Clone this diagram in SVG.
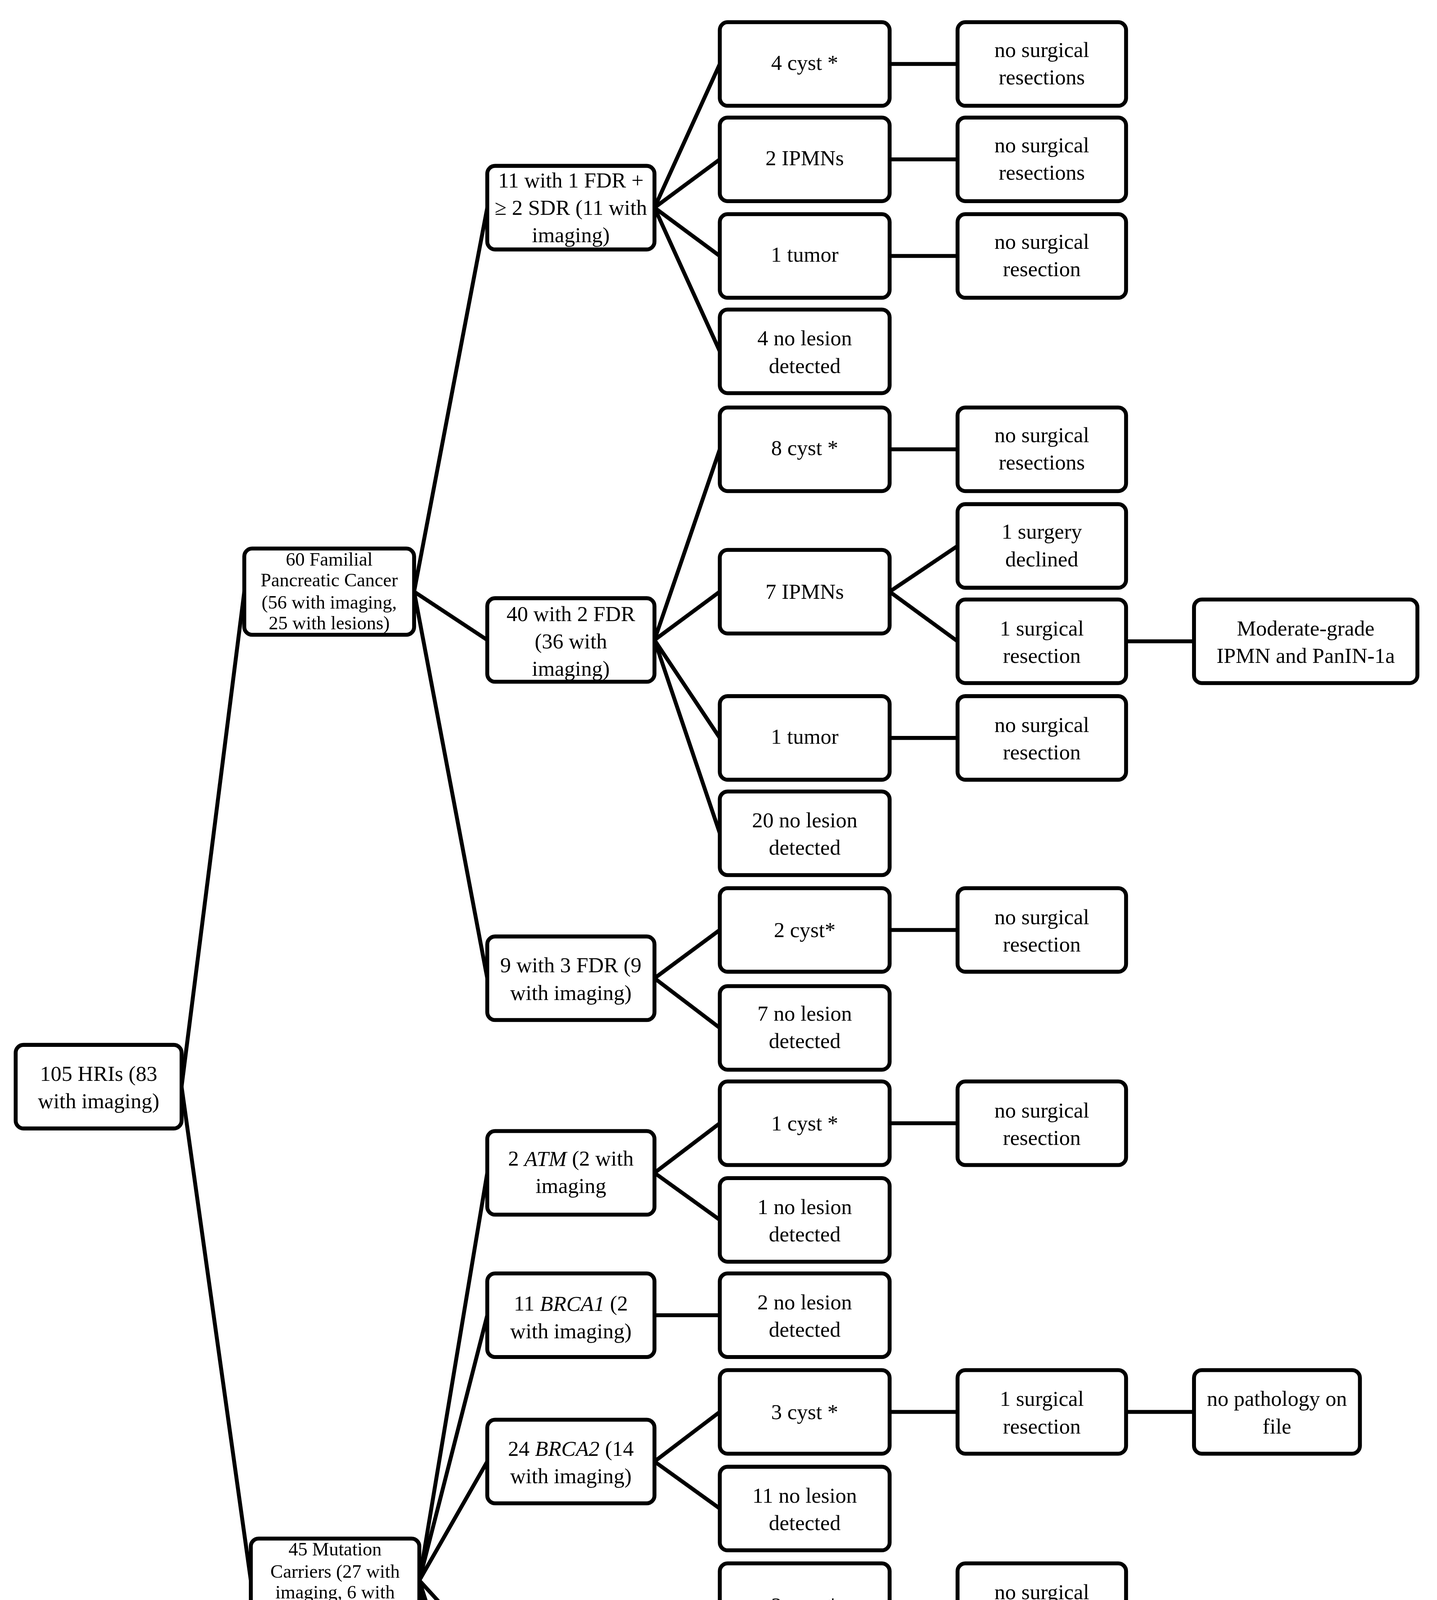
<svg xmlns="http://www.w3.org/2000/svg" width="3678" height="5244" viewBox="0 0 3678 5244">
<style>
rect{fill:#fff;stroke:#000;stroke-width:3;}
text{font-family:"Liberation Serif","DejaVu Serif",serif;font-size:16.5px;text-anchor:middle;dominant-baseline:central;fill:#000;}
text.s{font-size:14.5px;}
#connectors line{stroke:#000;stroke-width:3;}
</style>
<rect x="0" y="0" width="3678" height="5244" fill="#fff" style="stroke:none"/>
<g transform="scale(3.3436)">
<g id="connectors">
<line x1="139" y1="832" x2="187" y2="453"/><line x1="139" y1="832" x2="192" y2="1210"/>
<line x1="317" y1="453" x2="373" y2="159"/><line x1="317" y1="453" x2="373" y2="490"/><line x1="317" y1="453" x2="373" y2="749"/>
<line x1="321" y1="1210" x2="373" y2="898"/><line x1="321" y1="1210" x2="373" y2="1007"/><line x1="321" y1="1210" x2="373" y2="1119"/><line x1="321" y1="1210" x2="373" y2="1267"/><line x1="321" y1="1210" x2="373" y2="1376"/><line x1="321" y1="1210" x2="373" y2="1450"/><line x1="321" y1="1210" x2="373" y2="1524"/>
<line x1="501" y1="159" x2="551" y2="49"/><line x1="501" y1="159" x2="551" y2="122"/><line x1="501" y1="159" x2="551" y2="196"/><line x1="501" y1="159" x2="551" y2="269"/>
<line x1="501" y1="490" x2="551" y2="344"/><line x1="501" y1="490" x2="551" y2="453"/><line x1="501" y1="490" x2="551" y2="565"/><line x1="501" y1="490" x2="551" y2="638"/>
<line x1="501" y1="749" x2="551" y2="712"/><line x1="501" y1="749" x2="551" y2="787"/>
<line x1="501" y1="898" x2="551" y2="860"/><line x1="501" y1="898" x2="551" y2="934"/>
<line x1="501" y1="1007" x2="551" y2="1007"/>
<line x1="501" y1="1119" x2="551" y2="1081"/><line x1="501" y1="1119" x2="551" y2="1155"/>
<line x1="501" y1="1267" x2="551" y2="1229"/><line x1="501" y1="1267" x2="551" y2="1303"/>
<line x1="501" y1="1376" x2="551" y2="1376"/><line x1="501" y1="1450" x2="551" y2="1450"/><line x1="501" y1="1524" x2="551" y2="1524"/>
<line x1="681" y1="49" x2="733" y2="49"/><line x1="681" y1="122" x2="733" y2="122"/><line x1="681" y1="196" x2="733" y2="196"/><line x1="681" y1="344" x2="733" y2="344"/>
<line x1="681" y1="453" x2="733" y2="418"/><line x1="681" y1="453" x2="733" y2="491"/><line x1="681" y1="565" x2="733" y2="565"/><line x1="681" y1="712" x2="733" y2="712"/><line x1="681" y1="860" x2="733" y2="860"/><line x1="681" y1="1081" x2="733" y2="1081"/><line x1="681" y1="1229" x2="733" y2="1229"/>
<line x1="862" y1="491" x2="914" y2="491"/><line x1="862" y1="1081" x2="914" y2="1081"/>
</g>
<g id="root"><rect x="12" y="800" width="127" height="64" rx="6"/><text x="75.5" y="822">105 HRIs (83</text><text x="75.5" y="843">with imaging)</text></g>
<g id="fpc"><rect x="187" y="420" width="130" height="66" rx="6"/><text class="s" x="252" y="428">60 Familial</text><text class="s" x="252" y="444">Pancreatic Cancer</text><text class="s" x="252" y="461">(56 with imaging,</text><text class="s" x="252" y="477">25 with lesions)</text></g>
<g id="mc"><rect x="192" y="1178" width="129" height="64" rx="6"/><text class="s" x="256.5" y="1186">45 Mutation</text><text class="s" x="256.5" y="1203">Carriers (27 with</text><text class="s" x="256.5" y="1219">imaging, 6 with</text><text class="s" x="256.5" y="1235">lesions)</text></g>
<g id="a"><rect x="373" y="127" width="128" height="64" rx="6"/><text x="437" y="138">11 with 1 FDR +</text><text x="437" y="159">≥ 2 SDR (11 with</text><text x="437" y="180">imaging)</text></g>
<g id="b"><rect x="373" y="458" width="128" height="64" rx="6"/><text x="437" y="470">40 with 2 FDR</text><text x="437" y="491">(36 with</text><text x="437" y="512">imaging)</text></g>
<g id="c"><rect x="373" y="717" width="128" height="64" rx="6"/><text x="437" y="739">9 with 3 FDR (9</text><text x="437" y="760">with imaging)</text></g>
<g id="d"><rect x="373" y="866" width="128" height="64" rx="6"/><text x="437" y="887">2 <tspan font-style="italic">ATM</tspan> (2 with</text><text x="437" y="908">imaging</text></g>
<g id="e"><rect x="373" y="975" width="128" height="64" rx="6"/><text x="437" y="998">11 <tspan font-style="italic">BRCA1</tspan>  (2</text><text x="437" y="1019">with imaging)</text></g>
<g id="f"><rect x="373" y="1087" width="128" height="64" rx="6"/><text x="437" y="1109">24 <tspan font-style="italic">BRCA2</tspan> (14</text><text x="437" y="1130">with imaging)</text></g>
<g id="g"><rect x="373" y="1235" width="128" height="64" rx="6"/><text x="437" y="1256">5 <tspan font-style="italic">CDKN2A</tspan>  (5</text><text x="437" y="1277">with imaging)</text></g>
<g id="h"><rect x="373" y="1344" width="128" height="64" rx="6"/><text x="437" y="1377">1 <tspan font-style="italic">MSH6</tspan></text></g>
<g id="i"><rect x="373" y="1418" width="128" height="64" rx="6"/><text x="437" y="1451">1 <tspan font-style="italic">STK11</tspan></text></g>
<g id="j"><rect x="373" y="1492" width="128" height="64" rx="6"/><text x="437" y="1525">1 <tspan font-style="italic">RAD50</tspan></text></g>
<g id="l3a"><rect x="551" y="17" width="130" height="64" rx="6"/><text x="616" y="48">4 cyst *</text></g>
<g id="l3b"><rect x="551" y="90" width="130" height="64" rx="6"/><text x="616" y="121">2 IPMNs</text></g>
<g id="l3c"><rect x="551" y="164" width="130" height="64" rx="6"/><text x="616" y="195">1 tumor</text></g>
<g id="l3d"><rect x="551" y="237" width="130" height="64" rx="6"/><text x="616" y="259">4 no lesion</text><text x="616" y="280">detected</text></g>
<g id="l3e"><rect x="551" y="312" width="130" height="64" rx="6"/><text x="616" y="343">8 cyst *</text></g>
<g id="l3f"><rect x="551" y="421" width="130" height="64" rx="6"/><text x="616" y="453">7 IPMNs</text></g>
<g id="l3g"><rect x="551" y="533" width="130" height="64" rx="6"/><text x="616" y="564">1 tumor</text></g>
<g id="l3h"><rect x="551" y="606" width="130" height="64" rx="6"/><text x="616" y="628">20 no lesion</text><text x="616" y="649">detected</text></g>
<g id="l3i"><rect x="551" y="680" width="130" height="64" rx="6"/><text x="616" y="712">2 cyst*</text></g>
<g id="l3j"><rect x="551" y="755" width="130" height="64" rx="6"/><text x="616" y="776">7 no lesion</text><text x="616" y="797">detected</text></g>
<g id="l3k"><rect x="551" y="828" width="130" height="64" rx="6"/><text x="616" y="860">1 cyst *</text></g>
<g id="l3l"><rect x="551" y="902" width="130" height="64" rx="6"/><text x="616" y="924">1 no lesion</text><text x="616" y="945">detected</text></g>
<g id="l3m"><rect x="551" y="975" width="130" height="64" rx="6"/><text x="616" y="997">2 no lesion</text><text x="616" y="1018">detected</text></g>
<g id="l3n"><rect x="551" y="1049" width="130" height="64" rx="6"/><text x="616" y="1081">3 cyst *</text></g>
<g id="l3o"><rect x="551" y="1123" width="130" height="64" rx="6"/><text x="616" y="1145">11 no lesion</text><text x="616" y="1166">detected</text></g>
<g id="l3p"><rect x="551" y="1197" width="130" height="64" rx="6"/><text x="616" y="1229">2 cyst *</text></g>
<g id="l3q"><rect x="551" y="1271" width="130" height="64" rx="6"/><text x="616" y="1293">3 no lesion</text><text x="616" y="1314">detected</text></g>
<g id="l3r"><rect x="551" y="1344" width="130" height="64" rx="6"/><text x="616" y="1366">1 no lesion</text><text x="616" y="1387">detected</text></g>
<g id="l3s"><rect x="551" y="1418" width="130" height="64" rx="6"/><text x="616" y="1440">1 no lesion</text><text x="616" y="1461">detected</text></g>
<g id="l3t"><rect x="551" y="1492" width="130" height="64" rx="6"/><text x="616" y="1514">1 no lesion</text><text x="616" y="1535">detected</text></g>
<g id="l4a"><rect x="733" y="17" width="129" height="64" rx="6"/><text x="797.5" y="38">no surgical</text><text x="797.5" y="59">resections</text></g>
<g id="l4b"><rect x="733" y="90" width="129" height="64" rx="6"/><text x="797.5" y="111">no surgical</text><text x="797.5" y="132">resections</text></g>
<g id="l4c"><rect x="733" y="164" width="129" height="64" rx="6"/><text x="797.5" y="185">no surgical</text><text x="797.5" y="206">resection</text></g>
<g id="l4d"><rect x="733" y="312" width="129" height="64" rx="6"/><text x="797.5" y="333">no surgical</text><text x="797.5" y="354">resections</text></g>
<g id="l4e"><rect x="733" y="386" width="129" height="64" rx="6"/><text x="797.5" y="407">1 surgery</text><text x="797.5" y="428">declined</text></g>
<g id="l4f"><rect x="733" y="459" width="129" height="64" rx="6"/><text x="797.5" y="481">1 surgical</text><text x="797.5" y="502">resection</text></g>
<g id="l4g"><rect x="733" y="533" width="129" height="64" rx="6"/><text x="797.5" y="555">no surgical</text><text x="797.5" y="576">resection</text></g>
<g id="l4h"><rect x="733" y="680" width="129" height="64" rx="6"/><text x="797.5" y="702">no surgical</text><text x="797.5" y="723">resection</text></g>
<g id="l4i"><rect x="733" y="828" width="129" height="64" rx="6"/><text x="797.5" y="850">no surgical</text><text x="797.5" y="871">resection</text></g>
<g id="l4j"><rect x="733" y="1049" width="129" height="64" rx="6"/><text x="797.5" y="1071">1 surgical</text><text x="797.5" y="1092">resection</text></g>
<g id="l4k"><rect x="733" y="1197" width="129" height="64" rx="6"/><text x="797.5" y="1219">no surgical</text><text x="797.5" y="1240">resections</text></g>
<g id="l5a"><rect x="914" y="459" width="171" height="64" rx="6"/><text x="999.5" y="481">Moderate-grade</text><text x="999.5" y="502">IPMN and PanIN-1a</text></g>
<g id="l5b"><rect x="914" y="1049" width="127" height="64" rx="6"/><text x="977.5" y="1071">no pathology on</text><text x="977.5" y="1092">file</text></g>
</g>
</svg>
